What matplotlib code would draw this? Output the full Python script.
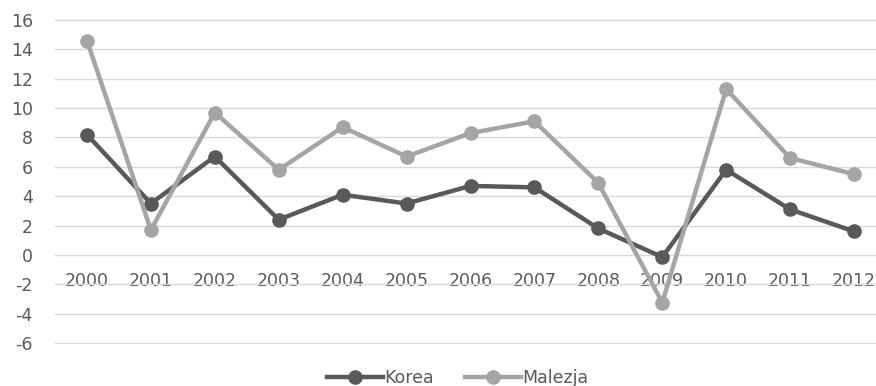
import matplotlib
matplotlib.use("Agg")
import matplotlib.pyplot as plt
from matplotlib.lines import Line2D

years = ["2000", "2001", "2002", "2003", "2004", "2005", "2006",
         "2007", "2008", "2009", "2010", "2011", "2012"]
korea = [8.2, 3.5, 6.7, 2.4, 4.1, 3.5, 4.7, 4.6, 1.8, -0.15, 5.8, 3.1, 1.6]
malezja = [14.6, 1.7, 9.7, 5.8, 8.7, 6.7, 8.3, 9.1, 4.9, -3.25, 11.3, 6.6, 5.5]
y_ticks = list(range(-6, 17, 2))

plt.rcParams["font.family"] = ["DejaVu Sans"]

fig = plt.figure(figsize=(8.76, 3.86), dpi=100)
ax = fig.add_axes([55 / 876, 42 / 386, 831 / 876, 325 / 386])

dark = "#595959"
light = "#a5a5a5"
x = list(range(len(years)))

ax.plot(x, korea, color=dark, lw=3.2, marker="o", ms=9.5, zorder=3,
        solid_capstyle="round")
ax.plot(x, malezja, color=light, lw=3.2, marker="o", ms=9.5, zorder=3,
        solid_capstyle="round")

ax.set_xlim(-0.5, len(years) - 0.5)
ax.set_ylim(-6.07, 16.07)
ax.set_yticks(y_ticks)
ax.set_yticklabels([str(v) for v in y_ticks])
ax.yaxis.grid(True, color="#d9d9d9", lw=1)
ax.set_axisbelow(True)

for s in ["top", "right", "left"]:
    ax.spines[s].set_visible(False)
ax.spines["bottom"].set_position(("data", 0))
ax.spines["bottom"].set_visible(False)

ax.set_xticks(x)
ax.set_xticklabels(years)
ax.tick_params(axis="x", length=0, pad=12, labelsize=12.5, labelcolor=dark)
ax.tick_params(axis="y", length=0, pad=16, labelsize=12.5, labelcolor=dark)

handles = [
    Line2D([0], [0], color=dark, lw=3.2, marker="o", ms=9.5),
    Line2D([0], [0], color=light, lw=3.2, marker="o", ms=9.5),
]
fig.legend(handles, ["Korea", "Malezja"], loc="center",
           bbox_to_anchor=(458 / 876, 1 - 378 / 386), ncol=2, frameon=False,
           fontsize=12.5, labelcolor=dark, handlelength=3.2,
           handletextpad=0.1, columnspacing=1.8)

fig.savefig("out.png", dpi=100)
